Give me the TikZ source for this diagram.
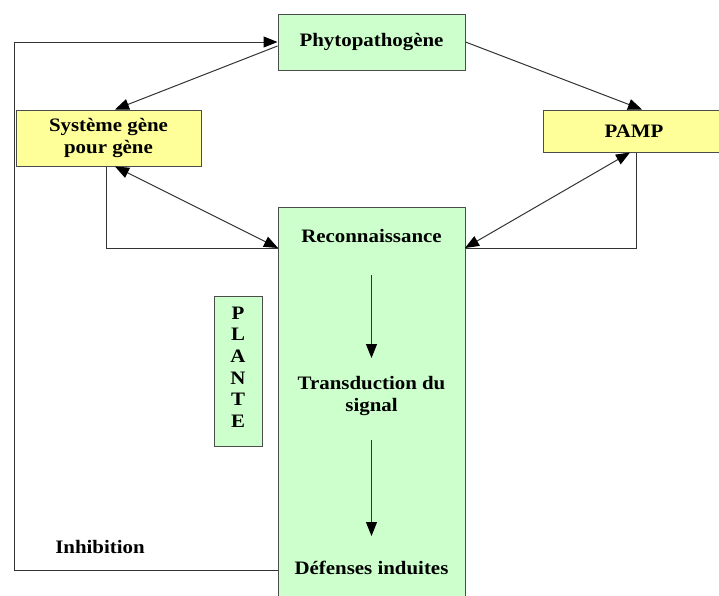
\documentclass[tikz,border=0pt]{standalone}
\usepackage{fontspec}
\setmainfont{Liberation Serif}[FakeStretch=1.1]
\usetikzlibrary{arrows.meta}
\definecolor{boxgreen}{HTML}{CCFFCC}
\definecolor{boxyellow}{HTML}{FFFF99}
\begin{document}
\begin{tikzpicture}[x=1pt,y=-1pt,
 box/.style={draw=black!70,line width=1pt,inner sep=0pt,font=\fontsize{19}{22}\selectfont\bfseries,align=center},
 lbl/.style={font=\fontsize{19}{22}\selectfont\bfseries,align=center,inner sep=0pt},
 conn/.style={draw=black!80,line width=1pt},
 tip/.style={-{Triangle[length=14pt,width=11pt,color=black]}},
 dtip/.style={{Triangle[length=14pt,width=11pt,color=black]}-{Triangle[length=14pt,width=11pt,color=black]}}]
\useasboundingbox (0,0) rectangle (719,595);
% boxes
\node[box,fill=boxgreen,minimum width=187pt,minimum height=56pt] (phyto) at (371.5,42) {Phytopathogène};
\node[box,fill=boxyellow,minimum width=185pt,minimum height=56pt] (sys) at (108.5,138) {Système gène\\pour gène};
\node[box,fill=boxyellow,minimum width=182pt,minimum height=42pt] (pamp) at (634,131) {PAMP};
\node[box,fill=boxgreen,minimum width=187pt,minimum height=393pt] (plante) at (371.5,403.5) {};
\node[box,fill=boxgreen,minimum width=48pt,minimum height=150pt] (pl) at (238,371) {};
\node[lbl,font=\fontsize{19}{21.6}\selectfont\bfseries] (pltxt) at (238,367) {P\\L\\A\\N\\T\\E};
% texts in big box
\node[lbl] (rec) at (371.5,236) {Reconnaissance};
\node[lbl] (trans) at (371.5,396) {Transduction du\\signal};
\node[lbl] (def) at (371.5,568) {Défenses induites};
\node[lbl] (inh) at (100,547) {Inhibition};
% coordinates
\coordinate (recL) at (278,248);
\coordinate (recR) at (465,248);
\coordinate (inhE) at (278,570);
\coordinate (a1s) at (371.5,275);
\coordinate (a1e) at (371.5,358);
\coordinate (a2s) at (371.5,440);
\coordinate (a2e) at (371.5,536);
% connectors
\draw[conn,tip] (inhE) -- (14,570) -- (14,42) -- (phyto.west);
\draw[conn,tip] ([yshift=-4pt]phyto.west) -- ([xshift=6.5pt]sys.north);
\draw[conn,tip] (phyto.east) -- ([xshift=8pt]pamp.north);
\draw[conn,dtip] ([xshift=6.5pt]sys.south) -- (recL);
\draw[conn] ([xshift=-2.5pt]sys.south) |- (recL);
\draw[conn,dtip] ([xshift=-4pt]pamp.south) -- (recR);
\draw[conn] ([xshift=2pt]pamp.south) |- (recR);
\draw[conn,tip] (a1s) -- (a1e);
\draw[conn,tip] (a2s) -- (a2e);
\end{tikzpicture}
\end{document}
